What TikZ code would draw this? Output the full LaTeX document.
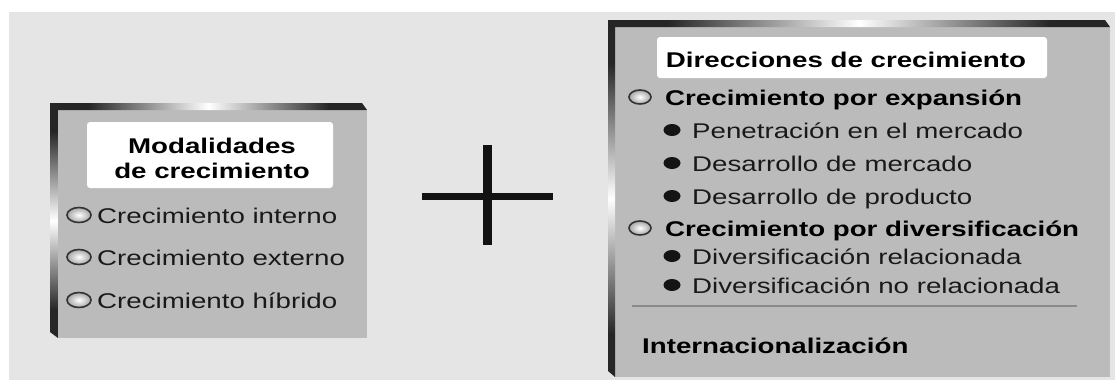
\documentclass[tikz,border=0pt]{standalone}
\usepackage{fontspec}
\setmainfont{Liberation Sans}[FakeStretch=1.3]
\definecolor{bgc}{HTML}{E5E5E5}
\definecolor{bodyc}{HTML}{BBBBBB}
\definecolor{bevel}{HTML}{262626}
\definecolor{bevmid}{HTML}{8C8C8C}
\definecolor{sepc}{HTML}{8A8A8A}
\pgfdeclarehorizontalshading{topbevsh}{100bp}{color(0bp)=(bevel); color(31bp)=(bevel); color(40bp)=(bevmid); color(50bp)=(white); color(60bp)=(bevmid); color(69bp)=(bevel); color(100bp)=(bevel)}
\pgfdeclareverticalshading{sidebevsh}{100bp}{color(0bp)=(bevel); color(31bp)=(bevel); color(40bp)=(bevmid); color(50bp)=(white); color(60bp)=(bevmid); color(69bp)=(bevel); color(100bp)=(bevel)}
\newcommand\myfs{\fontsize{21.3}{25}\selectfont}
\newcommand\myfsb{\fontsize{21.3}{25}\selectfont\bfseries}
\begin{document}
\begin{tikzpicture}[x=1pt,y=-1pt,
  txt/.style={anchor=base west, inner sep=0pt, font=\myfs, text=black!90},
  btxt/.style={anchor=base west, inner sep=0pt, font=\myfsb, text=black},
  ttl/.style={anchor=base, inner sep=0pt, font=\myfsb, text=black},
  titlebox/.style={fill=white, rounded corners=3pt, inner sep=0pt},
  hollow/.style={shading=radial, inner color=white, outer color=black!35, draw=black!80, line width=1.6pt},
  solid/.style={fill=black!92},
  topbevel/.style={shading=topbevsh},
  sidebevel/.style={shading=sidebevsh}]
\useasboundingbox (0,0) rectangle (1119,380);
\fill[white] (0,0) rectangle (1119,380);
\fill[bgc] (9,12) rectangle (1115,380);

% ---------- left box ----------
\fill[bodyc] (58,110) rectangle (367,338);
\shade[topbevel] (50,103) -- (362,103) -- (367,110) -- (50,110) -- cycle;
\shade[sidebevel] (50,103) -- (58,103) -- (58,338) -- (50,332) -- cycle;
\node[titlebox, minimum width=246pt, minimum height=66pt] (ltbox) at (210,155) {};
\node[ttl] (lt1) at (212,153) {Modalidades};
\node[ttl] (lt2) at (212,178) {de crecimiento};

\shade[hollow] (79,215) ellipse [x radius=12pt, y radius=7.5pt];
\node[txt] (l1) at (97,223) {Crecimiento interno};
\shade[hollow] (79,257) ellipse [x radius=12pt, y radius=7.5pt];
\node[txt] (l2) at (97,265) {Crecimiento externo};
\shade[hollow] (79,300) ellipse [x radius=12pt, y radius=7.5pt];
\node[txt] (l3) at (97,308) {Crecimiento híbrido};

% ---------- plus ----------
\draw[line width=7pt, black!93] (422,196) -- (553,196);
\draw[line width=9pt, black!93] (487,145) -- (487,245);

% ---------- right box ----------
\fill[bodyc] (615,27) rectangle (1110,377);
\shade[topbevel] (608,20) -- (1105,20) -- (1110,27) -- (608,27) -- cycle;
\shade[sidebevel] (608,20) -- (615,20) -- (615,377) -- (608,371) -- cycle;
\node[titlebox, minimum width=390pt, minimum height=41pt] (rtbox) at (852,57.5) {};
\node[ttl] (rt) at (846,67) {Direcciones de crecimiento};

\shade[hollow] (640,97) ellipse [x radius=11pt, y radius=7pt];
\node[btxt] (r1) at (665,105) {Crecimiento por expansión};
\fill[solid] (672,130) ellipse [x radius=8.5pt, y radius=6pt];
\node[txt] (r1a) at (692,138) {Penetración en el mercado};
\fill[solid] (672,163) ellipse [x radius=8.5pt, y radius=6pt];
\node[txt] (r1b) at (692,171) {Desarrollo de mercado};
\fill[solid] (672,196) ellipse [x radius=8.5pt, y radius=6pt];
\node[txt] (r1c) at (692,204) {Desarrollo de producto};

\shade[hollow] (640,228) ellipse [x radius=11pt, y radius=7pt];
\node[btxt] (r2) at (665,236) {Crecimiento por diversificación};
\fill[solid] (672,256) ellipse [x radius=8.5pt, y radius=6pt];
\node[txt] (r2a) at (692,264) {Diversificación relacionada};
\fill[solid] (672,285) ellipse [x radius=8.5pt, y radius=6pt];
\node[txt] (r2b) at (692,293) {Diversificación no relacionada};

\draw[sepc, line width=1.8pt] (632,306) -- (1077,306);
\node[btxt] (r3) at (642,353) {Internacionalización};
\end{tikzpicture}
\end{document}
